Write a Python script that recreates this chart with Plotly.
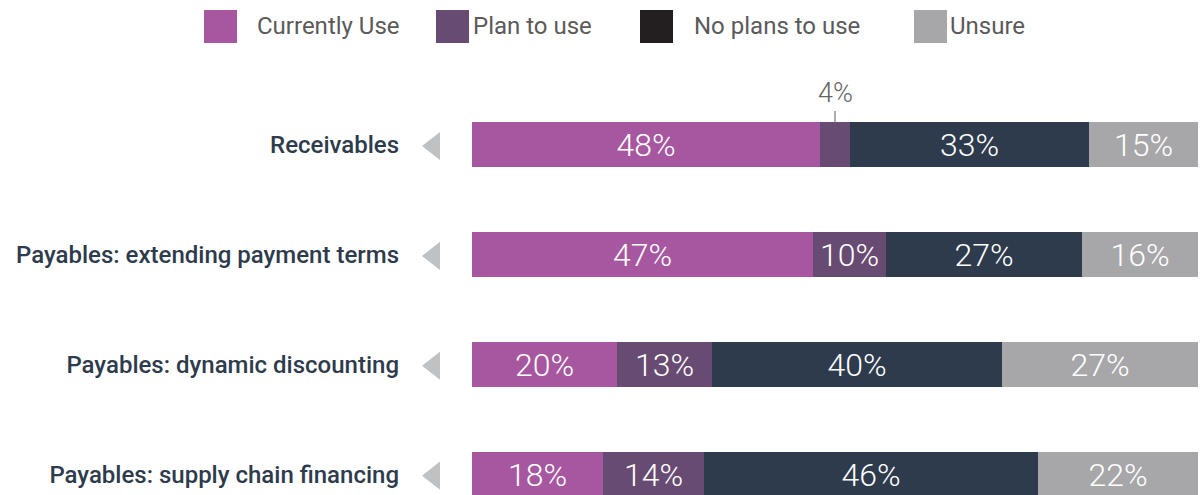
import plotly.graph_objects as go

categories = ["Receivables", "Payables: extending payment terms",
              "Payables: dynamic discounting", "Payables: supply chain financing"]
series_names = ["Currently Use", "Plan to use", "No plans to use", "Unsure"]
currently_use = [48, 47, 20, 18]
plan_to_use = [4, 10, 13, 14]
no_plans = [33, 27, 40, 46]
unsure = [15, 16, 27, 22]

bar_colors = ["#a757a0", "#684b72", "#2d3b4c", "#a7a7a9"]
legend_colors = ["#a757a0", "#684b72", "#231f20", "#a7a7a9"]

series = [currently_use, plan_to_use, no_plans, unsure]
ypos = list(range(len(categories)))

LIGHT = "Roboto Light, Roboto"

fig = go.Figure()
for name, vals, col in zip(series_names, series, bar_colors):
    fig.add_trace(go.Bar(
        y=ypos, x=vals, orientation="h", name=name, width=0.41,
        marker=dict(color=col, line=dict(width=0)),
        text=[f"{v}%" if v >= 8 else "" for v in vals],
        textposition="inside", insidetextanchor="middle",
        textfont=dict(family=LIGHT, size=32, color="white", weight=300),
        showlegend=False, hoverinfo="skip",
    ))

annotations = []
# annotations for small segments
for i in ypos:
    cum = 0
    for vals in series:
        v = vals[i]
        if v < 8:
            annotations.append(dict(
                x=cum + v / 2, y=i - 0.205, xref="x", yref="y",
                text=f"{v}%", showarrow=True, arrowhead=0, arrowwidth=1.2,
                arrowcolor="#777777", ax=0, ay=-29, standoff=0,
                font=dict(family=LIGHT, size=27, color="#666666", weight=300),
            ))
        cum += v

W, H = 1203, 495
PW = W - 472 - 5

shapes = []
# left-pointing triangles beside the labels (decoration)
tx0, tx1 = -50 / PW, -32 / PW
for i in ypos:
    c = i + 0.01
    shapes.append(dict(
        type="path", xref="paper", yref="y",
        path=f"M {tx1} {c - 0.128} L {tx0} {c} L {tx1} {c + 0.128} Z",
        fillcolor="#c0c1c3", line=dict(width=0),
    ))

# custom legend
legend_swatch_x = [204, 436, 640, 914]
legend_text_x = [255, 471, 692, 948]
for name, col, sx, tx in zip(series_names, legend_colors, legend_swatch_x, legend_text_x):
    shapes.append(dict(type="rect", xref="paper", yref="paper",
                       x0=(sx - 472) / PW, x1=(sx + 33 - 472) / PW,
                       y0=1 + (90 - 43) / 405, y1=1 + (90 - 10) / 405,
                       fillcolor=col, line=dict(width=0)))
    annotations.append(dict(
        x=(tx - 472) / PW, y=1 + (90 - 26) / 405, xref="paper", yref="paper",
        xanchor="left", yanchor="middle", text=name, showarrow=False,
        font=dict(family="Roboto", size=24, color="#5a5a5a"),
    ))

fig.update_layout(
    width=W, height=H, barmode="stack", bargap=0,
    margin=dict(l=472, r=5, t=90, b=0),
    plot_bgcolor="white", paper_bgcolor="white",
    xaxis=dict(range=[0, 100], visible=False, fixedrange=True),
    yaxis=dict(range=[3.186, -0.5], tickvals=ypos, ticktext=categories,
               showgrid=False, zeroline=False, showline=False, ticks="",
               ticklabelstandoff=72,
               tickfont=dict(family="Roboto", size=24, color="#2d3b4c", weight=500)),
    shapes=shapes, annotations=annotations, showlegend=False,
)

fig.write_html("out.html")
